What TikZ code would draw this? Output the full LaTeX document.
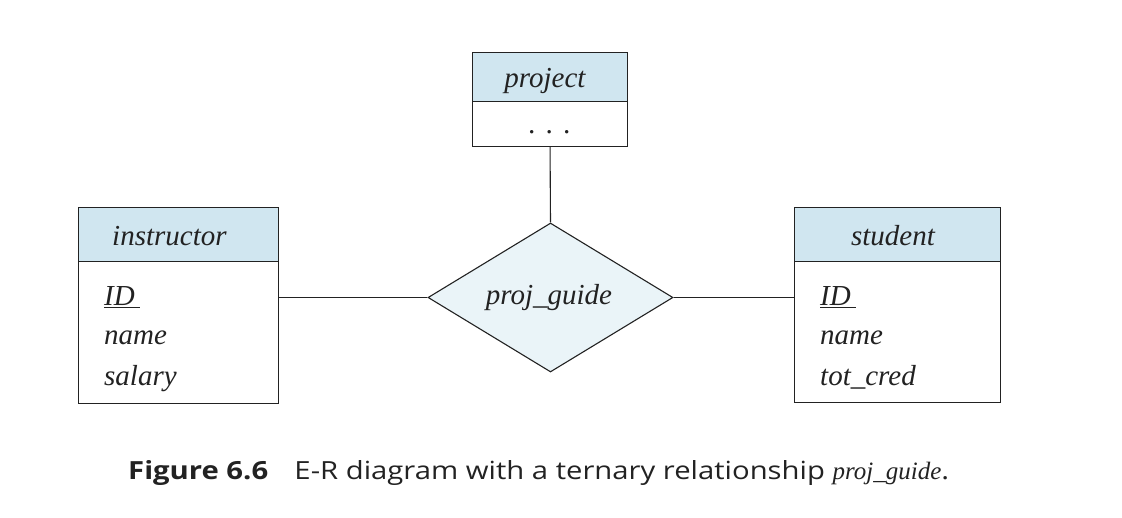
\documentclass[tikz,border=0pt]{standalone}
\usepackage{fontspec}
\setmainfont{Liberation Serif}
\newfontfamily\capfont[FakeStretch=1.17]{Open Sans}
\usetikzlibrary{shapes.geometric}
\definecolor{hdr}{HTML}{D0E6F0}
\definecolor{dia}{HTML}{EAF4F8}
\definecolor{ink}{HTML}{222222}
\tikzset{
  box/.style={draw=ink, line width=1.1pt, inner sep=0pt, anchor=north west},
  hdrbox/.style={box, fill=hdr},
  bodybox/.style={box, fill=white},
  lab/.style={font=\fontsize{29}{34}\selectfont\itshape, inner sep=0pt, text=ink},
  attr/.style={lab, anchor=base west},
  conn/.style={draw=ink, line width=1.1pt},
}
\begin{document}
\begin{tikzpicture}[x=1pt,y=-1pt]
\useasboundingbox (0,0) rectangle (1122,518);
% project
\node[hdrbox, minimum width=155pt, minimum height=49pt] (projH) at (472,52) {};
\node[bodybox, minimum width=155pt, minimum height=45pt] (projB) at (472,101) {};
\node[lab, anchor=base] (projT) at (545,88) {project};
\node[lab, anchor=base] (projD) at (550,134) {.\hspace{0.35em}.\hspace{0.35em}.};
% instructor
\node[hdrbox, minimum width=200pt, minimum height=54pt] (instH) at (78,207) {};
\node[bodybox, minimum width=200pt, minimum height=142pt] (instB) at (78,261) {};
\node[lab, anchor=base west] (instT) at (112,246) {instructor};
\node[attr] (instA1) at (104,306) {\underline{ID\,}};
\node[attr] (instA2) at (104,345) {name};
\node[attr] (instA3) at (104,386) {salary};
% student
\node[hdrbox, minimum width=206pt, minimum height=54pt] (studH) at (794,207) {};
\node[bodybox, minimum width=206pt, minimum height=141pt] (studB) at (794,261) {};
\node[lab, anchor=base] (studT) at (893,246) {student};
\node[attr] (studA1) at (820,306) {\underline{ID\,}};
\node[attr] (studA2) at (820,345) {name};
\node[attr] (studA3) at (820,386) {tot\_cred};
% relationship
\node[diamond, draw=ink, line width=1.1pt, fill=dia, inner sep=0pt,
      minimum width=245pt, minimum height=149pt] (rel) at (550.5,297.5) {};
\node[lab, anchor=base] (relT) at (549,305) {proj\_guide};
% connectors
\draw[conn] (projB.south) -- (rel.north);
\draw[conn] (instB.east |- rel.west) -- (rel.west);
\draw[conn] (rel.east) -- (studB.west |- rel.east);
% caption
\node[anchor=base west, inner sep=0pt, text=ink, font=\capfont\fontsize{25}{29}\selectfont] (cap) at (128,479)
  {\textbf{Figure 6.6}\hspace{1.05em}E-R diagram with a ternary relationship {\rmfamily\itshape\fontsize{25}{29}\selectfont proj\_guide}.};
\end{tikzpicture}
\end{document}
